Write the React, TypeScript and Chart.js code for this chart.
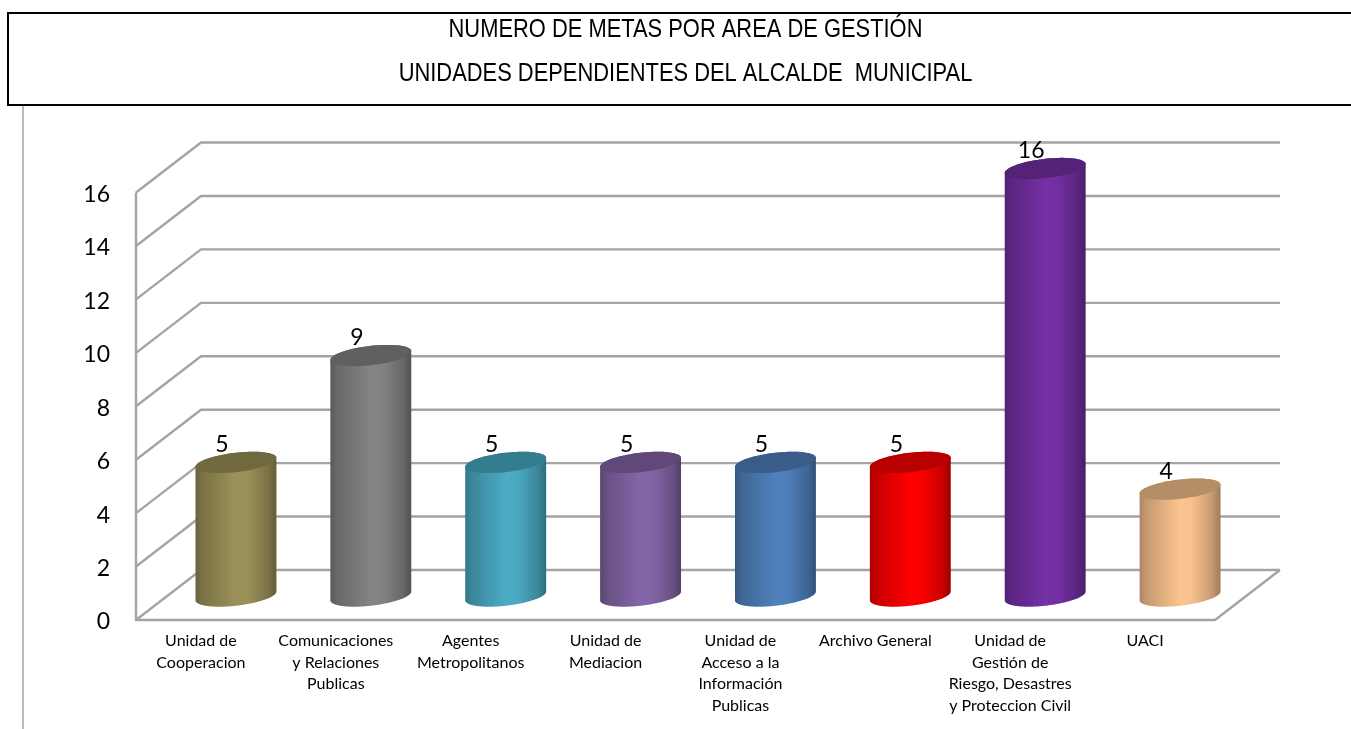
import React, { useEffect, useRef } from "react";
import { Chart, registerables } from "chart.js";

Chart.register(...registerables);

const titleLines = ["NUMERO DE METAS POR AREA DE GESTIÓN", "UNIDADES DEPENDIENTES DEL ALCALDE  MUNICIPAL"];
const categories = [
  ["Unidad de", "Cooperacion"],
  ["Comunicaciones", "y Relaciones", "Publicas"],
  ["Agentes", "Metropolitanos"],
  ["Unidad de", "Mediacion"],
  ["Unidad de", "Acceso a la", "Información", "Publicas"],
  ["Archivo General"],
  ["Unidad de", "Gestión de", "Riesgo, Desastres", "y Proteccion Civil"],
  ["UACI"],
];
const metas = [5, 9, 5, 5, 5, 5, 16, 4];
const barColors = ["#9c9259", "#858585", "#4bacc6", "#8566a8", "#4f81bd", "#ff0000", "#7530a5", "#fcc48f"];

const DEPTH_X = 65;
const DEPTH_Y = 50;
const BAR_LIFT = 24;
const GRID = "#a4a4a4";
const FONT = "Lato";
const TITLE_CENTER = 685.5;
const TITLE_SQUEEZE = 0.826;

function shade(hex: string, k: number) {
  const n = parseInt(hex.slice(1), 16);
  const c = [(n >> 16) & 255, (n >> 8) & 255, n & 255].map((v) => Math.round(v * k));
  return `rgb(${c[0]},${c[1]},${c[2]})`;
}

const cylinders = {
  id: "cylinders",
  afterLayout(chart: any) {
    const b = chart.titleBlock;
    if (!b) return;
    b.left = 0;
    b.right = TITLE_CENTER * 2;
    if (!b._squeezed) {
      b._squeezed = true;
      const draw = b.draw.bind(b);
      b.draw = () => {
        const c = chart.ctx;
        c.save();
        c.translate(TITLE_CENTER, 0);
        c.scale(TITLE_SQUEEZE, 1);
        c.translate(-TITLE_CENTER, 0);
        draw();
        c.restore();
      };
    }
  },
  beforeDraw(chart: any) {
    const { ctx } = chart;
    ctx.save();
    ctx.strokeStyle = "#000";
    ctx.lineWidth = 2;
    ctx.strokeRect(8, 13, chart.width + 20, 92);
    ctx.strokeStyle = "#a6a6a6";
    ctx.lineWidth = 1.5;
    ctx.beginPath();
    ctx.moveTo(23, 106);
    ctx.lineTo(23, chart.height);
    ctx.stroke();
    ctx.restore();
  },
  beforeDatasetsDraw(chart: any) {
    const { ctx, chartArea, scales } = chart;
    const { left, right, bottom } = chartArea;
    const y = scales.y;
    ctx.save();
    ctx.filter = "blur(0.7px)";
    ctx.strokeStyle = GRID;
    ctx.lineWidth = 2.4;
    ctx.lineJoin = "miter";
    y.ticks.forEach((t: any) => {
      const py = y.getPixelForValue(t.value);
      ctx.beginPath();
      ctx.moveTo(left, py);
      ctx.lineTo(left + DEPTH_X, py - DEPTH_Y);
      ctx.lineTo(right + DEPTH_X, py - DEPTH_Y);
      ctx.stroke();
    });
    ctx.beginPath();
    ctx.moveTo(left, y.getPixelForValue(y.max));
    ctx.lineTo(left, bottom);
    ctx.lineTo(right, bottom);
    ctx.lineTo(right + DEPTH_X, bottom - DEPTH_Y);
    ctx.stroke();
    ctx.restore();
  },
  beforeDatasetDraw(chart: any, args: any) {
    const { ctx } = chart;
    const meta = args.meta;
    const ds = chart.data.datasets[args.index];
    meta.data.forEach((bar: any, i: number) => {
      const p = bar.getProps(["x", "y", "base", "width"], true);
      const cx = p.x + DEPTH_X / 2;
      const rx = p.width / 2;
      const ry = rx * 0.24;
      const shear = rx * 0.11;
      const topY = p.y - BAR_LIFT;
      const botY = p.base - BAR_LIFT;
      const base = ds.backgroundColor[i];
      const ex = (t: number) => cx + rx * Math.cos(t);
      const ey = (cy: number, t: number) => cy + ry * Math.sin(t) - shear * Math.cos(t);
      ctx.save();
      ctx.filter = "blur(0.6px)";
      const g = ctx.createLinearGradient(cx - rx, 0, cx + rx, 0);
      g.addColorStop(0, shade(base, 0.68));
      g.addColorStop(0.08, shade(base, 0.78));
      g.addColorStop(0.35, shade(base, 0.92));
      g.addColorStop(0.5, shade(base, 1));
      g.addColorStop(0.65, shade(base, 0.98));
      g.addColorStop(0.9, shade(base, 0.78));
      g.addColorStop(1, shade(base, 0.62));
      ctx.fillStyle = g;
      ctx.beginPath();
      for (let k = 0; k <= 48; k++) {
        const t = (Math.PI * k) / 48;
        ctx.lineTo(ex(t), ey(botY, t));
      }
      for (let k = 0; k <= 48; k++) {
        const t = Math.PI + (Math.PI * k) / 48;
        ctx.lineTo(ex(t), ey(topY, t));
      }
      ctx.closePath();
      ctx.fill();
      ctx.fillStyle = shade(base, 0.72);
      ctx.beginPath();
      for (let k = 0; k <= 96; k++) {
        const t = (2 * Math.PI * k) / 96;
        ctx.lineTo(ex(t), ey(topY, t));
      }
      ctx.closePath();
      ctx.fill();
      ctx.restore();
    });
    return false;
  },
  afterDatasetsDraw(chart: any) {
    const { ctx } = chart;
    const meta = chart.getDatasetMeta(0);
    ctx.save();
    ctx.font = `23px ${FONT}`;
    ctx.fillStyle = "#000";
    ctx.textAlign = "center";
    ctx.textBaseline = "middle";
    meta.data.forEach((bar: any, i: number) => {
      const p = bar.getProps(["x", "y"], true);
      ctx.fillText(String(metas[i]), p.x + DEPTH_X / 2 - 14, p.y - DEPTH_Y / 2 - 17);
    });
    ctx.restore();
  },
};

export default function App() {
  const ref = useRef<HTMLCanvasElement>(null);
  useEffect(() => {
    const chart = new Chart(ref.current!, {
      type: "bar",
      data: {
        labels: categories,
        datasets: [{ label: "Metas", data: metas, backgroundColor: barColors, barPercentage: 0.6, categoryPercentage: 1 }],
      },
      options: {
        animation: false,
        responsive: false,
        events: [],
        layout: { padding: { left: 0, right: 136, top: 0, bottom: 0 } },
        plugins: {
          legend: { display: false },
          tooltip: { enabled: false },
          title: {
            display: true,
            text: titleLines,
            color: "#000",
            font: { family: "'Liberation Sans'", size: 26.5, lineHeight: 1.68, weight: "normal" },
            padding: { top: 7, bottom: 96.5 },
          },
        },
        scales: {
          x: {
            grid: { display: false, drawTicks: false },
            border: { display: false },
            ticks: { color: "#000", font: { family: FONT, size: 16, lineHeight: 1.356 }, padding: 10, maxRotation: 0, autoSkip: false, labelOffset: -2.5 },
            afterFit: (s: any) => { s.height = 109; },
          },
          y: {
            min: 0,
            max: 16,
            grid: { display: false, drawTicks: false },
            border: { display: false },
            ticks: { stepSize: 2, color: "#000", font: { family: FONT, size: 23 }, padding: 26, labelOffset: 2 },
            afterFit: (s: any) => { s.width = 136; },
          },
        },
      },
      plugins: [cylinders],
    } as any);
    return () => chart.destroy();
  }, []);
  return (
    <div style={{ position: "absolute", left: 0, top: 0, width: 1351, height: 729, overflow: "hidden" }}>
      <canvas ref={ref} width={1351} height={729} style={{ display: "block" }} />
    </div>
  );
}
